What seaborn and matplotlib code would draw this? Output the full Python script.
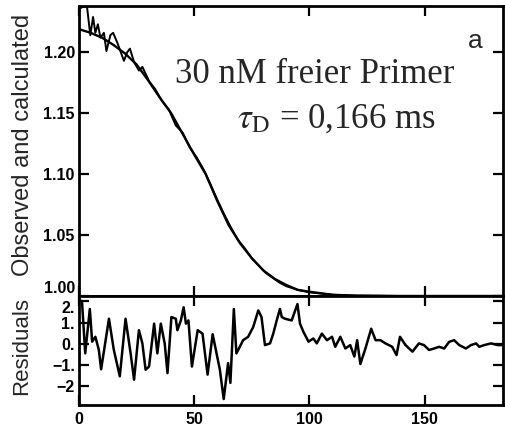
import matplotlib
matplotlib.use("Agg")
import matplotlib.pyplot as plt
import seaborn as sns
import pandas as pd

# calculated (fit) curve, top panel
calc_x = [0, 5, 10, 15, 20, 25, 30, 35, 40, 45, 50, 55, 60, 65, 70, 75, 80, 85,
          90, 95, 100, 110, 120, 140, 160, 184]
calc_y = [1.219, 1.216, 1.212, 1.206, 1.199, 1.190, 1.177, 1.163, 1.150, 1.133,
          1.116, 1.100, 1.078, 1.058, 1.043, 1.031, 1.021, 1.014, 1.009, 1.005,
          1.0035, 1.001, 1.0003, 1.0, 1.0, 1.0]

# observed curve, top panel (noisy at short times)
obs_x = [0.4, 2.3, 3.5, 4.9, 6.1, 7.1, 8.2, 9.3, 10.8, 11.9, 13.6, 14.8, 16.6,
         19.5, 20.9, 22.1, 23.9, 26.0, 27.5, 30.5, 33, 36, 39, 42, 45, 48, 51,
         54, 57, 60, 63, 66, 69, 72, 75, 78, 81, 84, 87, 90, 95, 100, 110, 120,
         140, 160, 184]
obs_y = [1.236, 1.238, 1.237, 1.214, 1.229, 1.216, 1.223, 1.212, 1.216, 1.201,
         1.214, 1.216, 1.208, 1.193, 1.200, 1.203, 1.192, 1.185, 1.188, 1.176,
         1.170, 1.160, 1.153, 1.140, 1.134, 1.122, 1.114, 1.104, 1.092, 1.079,
         1.067, 1.056, 1.046, 1.039, 1.031, 1.025, 1.019, 1.015, 1.011, 1.008,
         1.005, 1.003, 1.001, 1.0003, 1.0, 1.0, 1.0]

# residuals, bottom panel
res_x = [0.3, 1.3, 2.7, 4.7, 5.7, 7.1, 8.6, 9.6, 13.0, 15.1, 17.7, 20.2, 22.4,
         23.9, 26.0, 27.5, 28.9, 30.4, 32.6, 34.0, 35.5, 37.2, 38.4, 40.1, 42.0,
         42.7, 44.2, 45.4, 46.4, 47.5, 49.0, 51.5, 53.6, 55.8, 58.0, 61.1, 62.8,
         64.7, 65.7, 67.2, 68.3, 69.8, 71.2, 73.4, 75.6, 77.8, 79.2, 80.7, 82.9,
         84.3, 85.8, 87.2, 88.0, 89.4, 92.3, 94.8, 95.9, 97.4, 99.6, 101.7,
         103.2, 105.4, 107.6, 109.8, 111.2, 113.4, 115.6, 117.7, 119.5, 120.7,
         122.1, 124.3, 126.8, 128.7, 130.8, 133.0, 135.9, 137.8, 139.3, 141.7,
         144.7, 147.5, 149.7, 151.9, 154.1, 156.3, 158.5, 160.6, 162.8, 165.0,
         167.9, 170.1, 172.3, 173.7, 175.9, 178.8, 181.7, 184.0]
res_y = [2.05, 2.0, -0.45, 1.64, 0.1, 0.33, -0.28, -1.2, 1.18, -0.28, -1.53,
         1.18, -0.45, -1.69, 0.64, 0.02, -1.22, -1.07, 0.95, -0.45, 0.95, 0.01,
         -1.38, 1.26, 1.18, 0.64, 1.1, 1.72, 0.95, 1.1, -1.07, 0.64, 0.48,
         -1.45, 0.45, -1.2, -2.6, -0.91, -1.84, 1.64, -0.45, -0.14, 0.17, 0.33,
         0.79, 1.57, 1.26, -0.06, 0.02, 0.48, 1.1, 1.64, 1.26, 1.18, 1.1, 1.87,
         0.95, 0.56, 0.1, 0.25, 0.02, 0.48, 0.17, 0.33, -0.14, 0.33, -0.22,
         -0.06, -0.6, 0.17, -0.95, -0.22, 0.71, 0.17, 0.17, 0.02, -0.14, -0.53,
         0.33, -0.06, -0.37, 0.02, -0.06, -0.29, -0.22, -0.14, -0.22, 0.09,
         0.17, -0.06, -0.22, -0.06, 0.02, -0.14, -0.06, 0.02, -0.06, -0.06]

top_ticks = [1.00, 1.05, 1.10, 1.15, 1.20]
top_labels = ["1.00", "1.05", "1.10", "1.15", "1.20"]
res_ticks = [2, 1, 0, -1, -2]
res_labels = ["2.", "1.", "0.", "\u22121.", "\u22122"]
x_ticks = [0, 50, 100, 150]

sns.set_style("ticks")
plt.rcParams["font.family"] = ["Liberation Sans", "DejaVu Sans"]
plt.rcParams["mathtext.fontset"] = "stix"

fig = plt.figure(figsize=(5.06, 4.30), dpi=100)
ax1 = fig.add_axes([79 / 506, 1 - 296 / 430, 424 / 506, 290 / 430])
ax2 = fig.add_axes([79 / 506, 1 - 405 / 430, 424 / 506, 109 / 430], sharex=ax1)

obs = pd.DataFrame({"t": obs_x, "g": obs_y})
calc = pd.DataFrame({"t": calc_x, "g": calc_y})
res = pd.DataFrame({"t": res_x, "r": res_y})

sns.lineplot(data=calc, x="t", y="g", ax=ax1, color="black", lw=1.7)
sns.lineplot(data=obs, x="t", y="g", ax=ax1, color="black", lw=1.4)
sns.lineplot(data=res, x="t", y="r", ax=ax2, color="black", lw=1.8)

ax1.set_xlim(0, 184)
ax1.set_ylim(1.0, 1.238)
ax2.set_ylim(-2.88, 2.25)

for ax in (ax1, ax2):
    for s in ax.spines.values():
        s.set_visible(True)
        s.set_linewidth(2)
        s.set_color("black")
    ax.tick_params(direction="in", length=7, width=1.6, top=True, right=True,
                   labelsize=11.5, pad=3, colors="black")
    ax.set_xlabel("")
    ax.set_ylabel("")

ax1.set_yticks(top_ticks)
ax1.set_yticklabels(top_labels, fontweight="bold")
ax1.set_xticks(x_ticks)
ax1.tick_params(axis="x", labelbottom=False)
# keep "1.00" just above the panel boundary
ax1.get_yticklabels()[0].set_va("bottom")

ax2.set_yticks(res_ticks)
ax2.set_yticklabels(res_labels, fontweight="bold")
ax2.get_yticklabels()[0].set_va("top")
ax2.set_xticks(x_ticks)
ax2.set_xticklabels([str(v) for v in x_ticks], fontweight="bold")
ax2.tick_params(axis="x", pad=5)

fig.text(23 / 506, 1 - 145 / 430, "Observed and calculated", rotation=90,
         ha="center", va="center", fontsize=17)
fig.text(22 / 506, 1 - 346 / 430, "Residuals", rotation=90,
         ha="center", va="center", fontsize=16)

ax1.text(0.226, 0.734, "30 nM freier Primer", transform=ax1.transAxes,
         ha="left", va="baseline", fontsize=25,
         family=["Liberation Serif", "DejaVu Serif"])
ax1.text(0.373, 0.579, r"$\tau_{\mathrm{D}}$ = 0,166 ms", transform=ax1.transAxes,
         ha="left", va="baseline", fontsize=25,
         family=["Liberation Serif", "DejaVu Serif"])
ax1.text(0.934, 0.855, "a", transform=ax1.transAxes, ha="center",
         va="baseline", fontsize=19)

fig.savefig("out.png", dpi=100)
